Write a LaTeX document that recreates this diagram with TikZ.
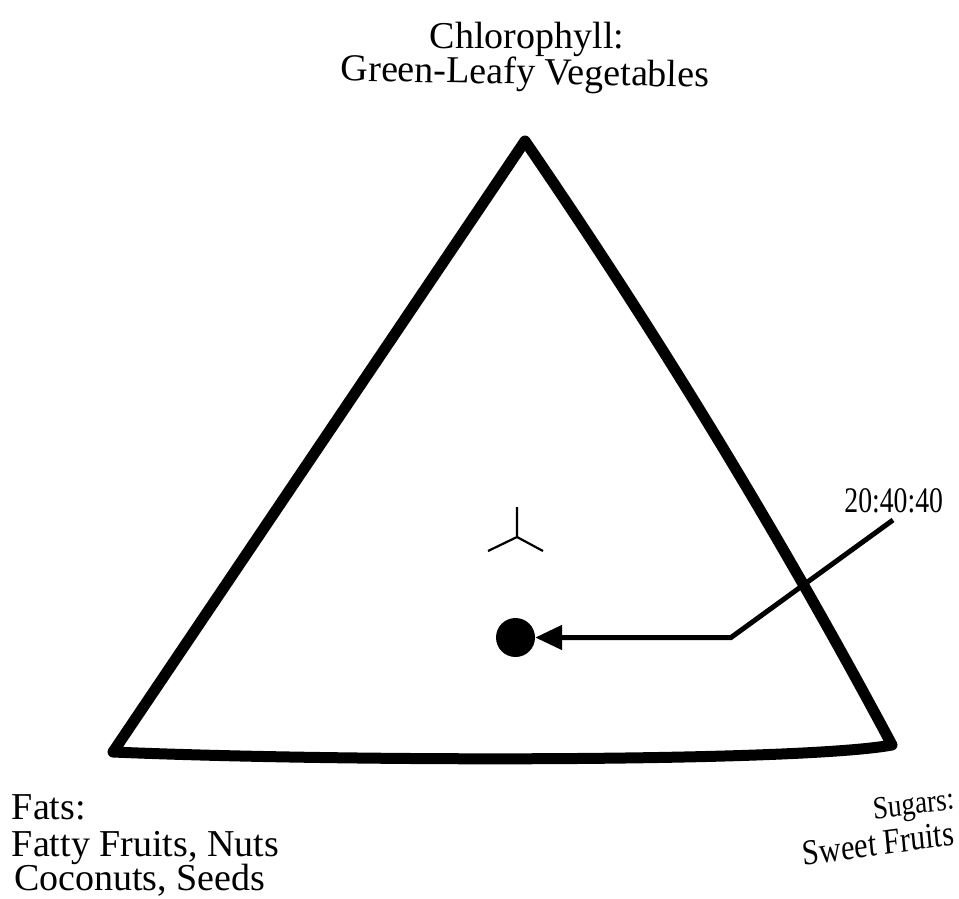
\documentclass[tikz,border=0pt]{standalone}
\usepackage{fontspec}
\setmainfont{Liberation Serif}
\usetikzlibrary{arrows.meta}
\begin{document}
\begin{tikzpicture}[x=1pt,y=-1pt,
  edge/.style={line width=11pt,line join=round,line cap=round},
  tickmark/.style={line width=2.2pt},
  pointer/.style={line width=5pt,line join=miter,-{Triangle[length=27pt,width=24pt]}},
  lbl/.style={inner sep=0pt,outer sep=0pt},
  big/.style={font=\fontsize{38}{31}\selectfont},
  fat/.style={lbl,anchor=base west,font=\fontsize{38}{37}\selectfont}]
\useasboundingbox (0,0) rectangle (959,898);
% triangle
\coordinate (T) at (525,141);
\coordinate (L) at (113,752);
\coordinate (R) at (892,745);
\draw[edge] (T) .. controls (658.7,336) and (781,537) .. (R)
  .. controls (800,762) and (350,762) .. (L) -- cycle;
% centre mark
\coordinate (C) at (517,537);
\coordinate (Ca) at (517,507);
\coordinate (Cb) at (488,551);
\coordinate (Cc) at (543,551);
\draw[tickmark] (Ca) -- (C) (Cb) -- (C) -- (Cc);
% dot and pointer
\node[circle,fill=black,inner sep=0pt,minimum size=39pt] (dot) at (515.5,637.5) {};
\coordinate (bend) at (731,637.5);
\coordinate (tail) at (893,520);
\draw[pointer] (tail) -- (bend) -- (dot);
\node[lbl,anchor=base east,font=\fontsize{36}{36}\selectfont,xscale=0.77] (ratio) at (943,512) {20:40:40};
% labels
\node[lbl,big,anchor=base] (chl1) at (527,48) {Chlorophyll:};
\node[lbl,big,anchor=base,rotate=-1] (chl2) at (525,84) {Green-Leafy Vegetables};
\node[fat] (fat1) at (12,819) {Fats:};
\node[fat] (fat2) at (12,856) {Fatty Fruits, Nuts};
\node[fat] (fat3) at (14,890) {Coconuts, Seeds};
\node[lbl,anchor=base east,font=\fontsize{32}{32}\selectfont,xscale=0.85,rotate=6] (sug1) at (955,809) {Sugars:};
\node[lbl,anchor=base east,font=\fontsize{36}{36}\selectfont,xscale=0.84,rotate=6.5] (sug2) at (955,845) {Sweet Fruits};
\end{tikzpicture}
\end{document}
